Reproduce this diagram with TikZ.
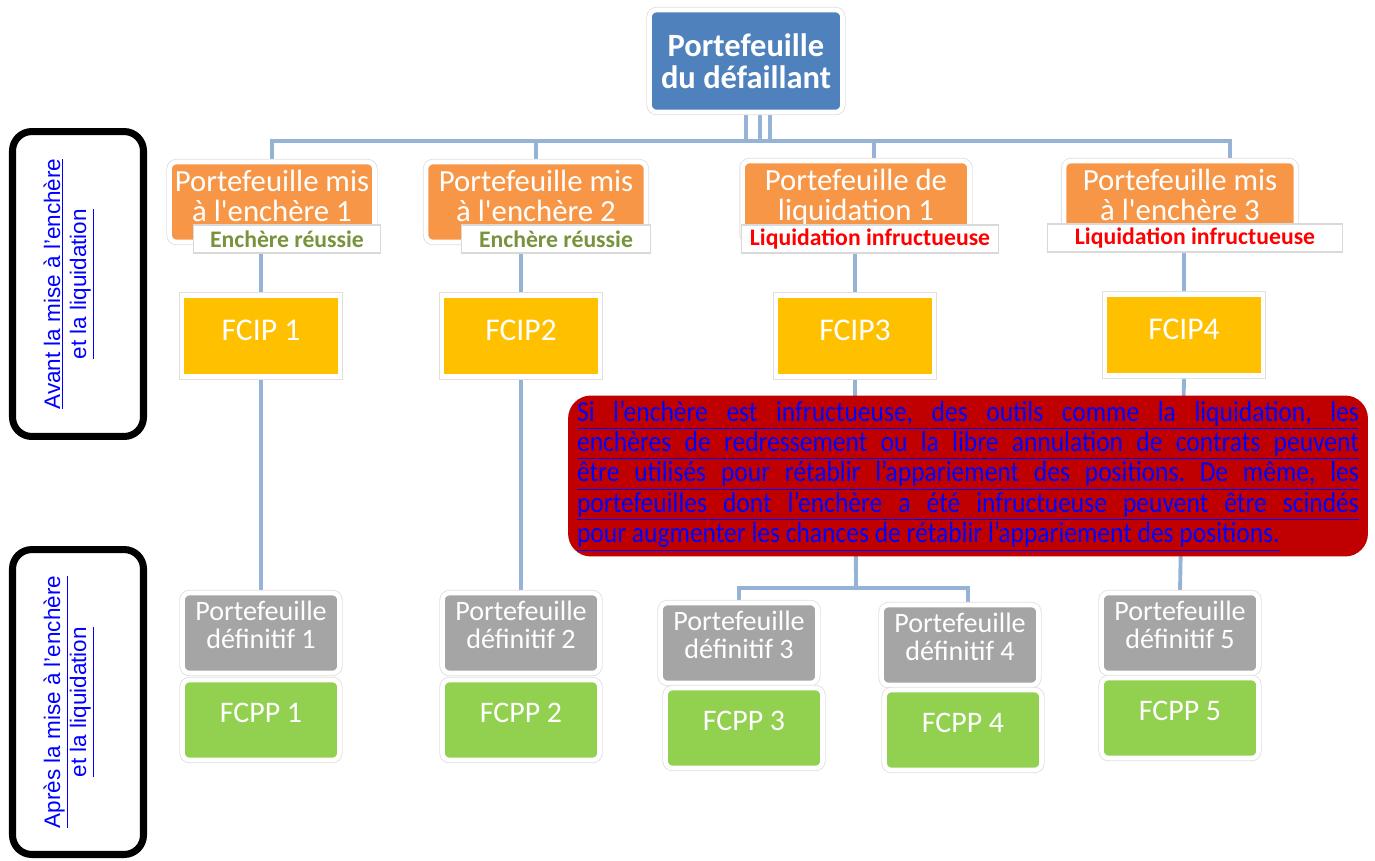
\documentclass[tikz,border=0pt]{standalone}
\usepackage{fontspec}
\setmainfont{Carlito}[Ligatures=TeXOff]
\newfontfamily\notefont[FakeStretch=0.88]{Carlito}
\newfontfamily\sidefont{Liberation Sans}
\usetikzlibrary{calc, positioning, backgrounds}

\definecolor{defaultblue}{HTML}{4F81BD}
\definecolor{auctionorange}{HTML}{F79646}
\definecolor{fcipyellow}{HTML}{FFC000}
\definecolor{finalgray}{HTML}{A5A5A5}
\definecolor{fcppgreen}{HTML}{92D050}
\definecolor{linkblue}{HTML}{95B3D7}
\definecolor{notered}{HTML}{C00000}
\definecolor{okgreen}{HTML}{77933C}
\definecolor{kored}{HTML}{FF0000}
\definecolor{hyperblue}{HTML}{0000FF}

\newcommand{\noteline}[1]{\underline{\makebox[445pt][s]{#1}}}

\tikzset{
    card/.style={rectangle, rounded corners=4pt, draw=white, line width=2.6pt,
        preaction={draw=black!12, line width=3.6pt}, text=white, align=center, inner sep=1pt},
    topcard/.style={card, fill=defaultblue, minimum width=3.86cm, minimum height=2.04cm,
        font=\fontsize{18.5}{18}\selectfont\bfseries},
    auction/.style={card, fill=auctionorange, minimum height=1.6cm, text depth=7pt,
        font=\fontsize{17.5}{17.5}\selectfont},
    tag/.style={rectangle, draw=black!15, line width=0.6pt, fill=white, minimum height=0.56cm,
        inner sep=1pt, font=\fontsize{13.5}{14}\selectfont\bfseries},
    fcip/.style={card, sharp corners, fill=fcipyellow, minimum width=3.16cm, minimum height=1.62cm,
        text depth=7pt, font=\fontsize{18}{18}\selectfont},
    final/.style={card, fill=finalgray, minimum width=3.14cm, minimum height=1.6cm,
        text depth=9pt, font=\fontsize{16}{16}\selectfont},
    fcpp/.style={card, fill=fcppgreen, minimum width=3.14cm, minimum height=1.6cm,
        text depth=8.5pt, font=\fontsize{17}{17}\selectfont},
    link/.style={draw=linkblue, line width=2.2pt},
    phase/.style={rectangle, draw=black, line width=4pt, rounded corners=11pt, rotate=90,
        minimum width=6.1cm, minimum height=2.62cm, align=center, text=hyperblue, text depth=15pt,
        font=\sidefont\fontsize{12.8}{14.8}\selectfont},
    note/.style={rectangle, fill=notered, rounded corners=13pt, minimum width=16cm,
        minimum height=3.22cm, inner sep=0pt, align=left, text=hyperblue,
        font=\notefont\fontsize{16.5}{15.9}\selectfont\frenchspacing}
}

\begin{document}
\begin{tikzpicture}[x=0.02cm, y=-0.02cm]
    \useasboundingbox (0,0) rectangle (1375,860);

    \node[phase] (before) at (78,284) {\underline{Avant la mise à l’enchère}\\\underline{et la liquidation}};
    \node[phase] (after) at (78,702) {\underline{Après la mise à l’enchère}\\\underline{et la liquidation}};

    \node[topcard] (top) at (746,61) {Portefeuille\\du défaillant};
    \coordinate (bar) at (746,141);

    \node[auction, minimum width=4.1cm] (pm1) at (272,202) {Portefeuille mis\\à l'enchère 1};
    \node[auction, minimum width=4.4cm] (pm2) at (536,202) {Portefeuille mis\\à l'enchère 2};
    \node[auction, minimum width=4.54cm] (pm3) at (856,201) {Portefeuille de\\liquidation 1};
    \node[auction, minimum width=4.64cm] (pm4) at (1180,201) {Portefeuille mis\\à l'enchère 3};

    \node[tag, minimum width=3.74cm, text=okgreen] (tag1) at (287,239) {Enchère réussie};
    \node[tag, minimum width=3.78cm, text=okgreen] (tag2) at (556,239) {Enchère réussie};
    \node[tag, minimum width=5.14cm, text=kored] (tag3) at (870,239) {Liquidation infructueuse};
    \node[tag, minimum width=5.9cm, text=kored] (tag4) at (1195,238) {Liquidation infructueuse};

    \foreach \n/\x/\y/\t in {1/261/336/{FCIP 1}, 2/521/336/FCIP2, 3/855/336/FCIP3, 4/1184/335/FCIP4}
        \node[fcip] (fcip\n) at (\x,\y) {\t};

    \foreach \n/\x/\y in {1/261/633, 2/521/633, 3/739/643, 4/960/645, 5/1180/633}
        \node[final] (fin\n) at (\x,\y) {Portefeuille\\définitif \n};

    \foreach \n/\x/\y in {1/261/720, 2/521/720, 3/744/728, 4/963/730, 5/1180/718}
        \node[fcpp] (fcpp\n) at (\x,\y) {FCPP \n};

    \node[note] (note) at (968,476) {%
        \noteline{Si l’enchère est infructueuse, des outils comme la liquidation, les}\\
        \noteline{enchères de redressement ou la libre annulation de contrats peuvent}\\
        \noteline{être utilisés pour rétablir l’appariement des positions. De même, les}\\
        \noteline{portefeuilles dont l’enchère a été infructueuse peuvent être scindés}\\
        \underline{pour augmenter les chances de rétablir l’appariement des positions.}};

    \begin{pgfonlayer}{background}
        \foreach \dx in {0,0.28,0.48}
            \draw[link] ([xshift=\dx cm]top.south) |- (bar);
        \draw[link] (pm1.north) |- (bar);
        \draw[link] (pm2.north) |- (bar);
        \draw[link] ([xshift=0.36cm]pm3.north) |- (bar);
        \draw[link] ([xshift=1cm]pm4.north) |- (bar);
        \foreach \n in {1,2,3,4}
            \draw[link] (tag\n.south -| fcip\n.north) -- (fcip\n.north);
        \draw[link] (fcip1.south) -- (fin1.north);
        \draw[link] (fcip2.south) -- (fin2.north);
        \coordinate (split) at (856,588);
        \draw[link] (fcip3.south) -- (split);
        \draw[link] (fin3.north) |- (split);
        \draw[link] ([xshift=0.16cm]fin4.north) |- (split);
        \draw[link] (fcip4.south) -- (fin5.north);
    \end{pgfonlayer}
\end{tikzpicture}
\end{document}
